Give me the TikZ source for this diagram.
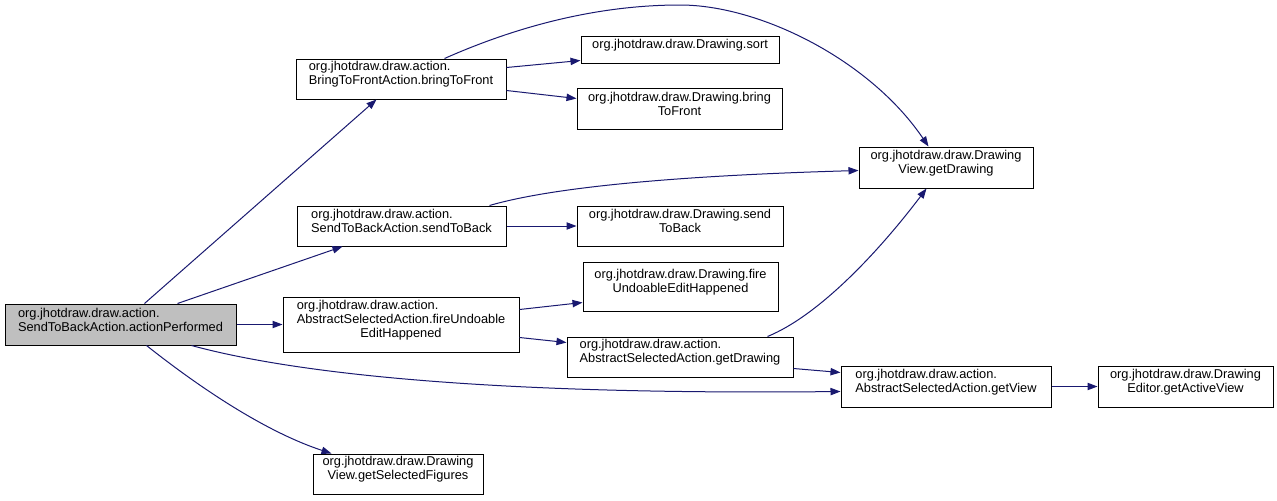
\documentclass[tikz,border=0pt]{standalone}
\usepackage{fontspec}
\setmainfont{Liberation Sans}
\usetikzlibrary{arrows.meta,fit,calc}
\definecolor{edgeblue}{HTML}{191970}
\definecolor{rootgray}{HTML}{BFBFBF}
% first line kept flush left against the widest line of the label
\newcommand{\lft}[2]{\rlap{#1}\phantom{#2}}

\begin{document}
\begin{tikzpicture}[x=0.75pt,y=-0.75pt,
  fn/.style={draw=black, line width=0.75pt, fill=white, inner sep=0pt,
    align=center, font=\fontsize{9.6}{10.5}\selectfont},
  rootfn/.style={fn, fill=rootgray},
  call/.style={draw=edgeblue, line width=0.75pt,
    -{Triangle[length=7.5pt,width=5.5pt]}}]
\useasboundingbox[fill=white] (0,0) rectangle (1277,500);

% functions
\node[rootfn, fit={(5,304) (236,345)}] (main)
  {\lft{org.jhotdraw.draw.action.}{SendToBackAction.actionPerformed}\\SendToBackAction.actionPerformed};
\node[fn, fit={(296,59) (506,99)}] (btf)
  {\lft{org.jhotdraw.draw.action.}{BringToFrontAction.bringToFront}\\BringToFrontAction.bringToFront};
\node[fn, fit={(581,36) (779,63)}] (sort) {org.jhotdraw.draw.Drawing.sort};
\node[fn, fit={(577,88) (782,129)}] (bf) {org.jhotdraw.draw.Drawing.bring\\ToFront};
\node[fn, fit={(859,147) (1033,188)}] (dvg) {org.jhotdraw.draw.Drawing\\View.getDrawing};
\node[fn, fit={(297,206) (506,246)}] (stb)
  {\lft{org.jhotdraw.draw.action.}{SendToBackAction.sendToBack}\\SendToBackAction.sendToBack};
\node[fn, fit={(577,206) (783,246)}] (stf) {org.jhotdraw.draw.Drawing.send\\ToBack};
\node[fn, fit={(583,262) (778,311)}] (fire) {org.jhotdraw.draw.Drawing.fire\\UndoableEditHappened};
\node[fn, fit={(283,297) (519,352)}] (fue)
  {\lft{org.jhotdraw.draw.action.}{AbstractSelectedAction.fireUndoable}\\AbstractSelectedAction.fireUndoable\\EditHappened};
\node[fn, fit={(567,337) (793,377)}] (agd)
  {\lft{org.jhotdraw.draw.action.}{AbstractSelectedAction.getDrawing}\\AbstractSelectedAction.getDrawing};
\node[fn, fit={(841,366) (1051,407)}] (gv)
  {\lft{org.jhotdraw.draw.action.}{AbstractSelectedAction.getView}\\AbstractSelectedAction.getView};
\node[fn, fit={(1098,366) (1273,407)}] (gav) {org.jhotdraw.draw.Drawing\\Editor.getActiveView};
\node[fn, fit={(313,454) (483,494)}] (gsf) {org.jhotdraw.draw.Drawing\\View.getSelectedFigures};

% calls
\draw[call] ($(main.north west)+(140,0)$) -- ($(btf.south west)+(81,0)$);
\draw[call] ($(main.north west)+(173,0)$) -- ($(stb.south west)+(46,0)$);
\draw[call] (main.east) -- (fue.west);
\draw[call] ($(main.south west)+(187,0)$) .. controls (300,375) and (500,395) .. ($(gv.north west)+(0,26)$);
\draw[call] ($(main.south west)+(142,0)$) .. controls (190,380) and (260,430) .. ($(gsf.north west)+(19,0)$);

\draw[call] ($(btf.north east)+(0,9)$) -- ($(sort.north west)+(0,25)$);
\draw[call] ($(btf.north east)+(0,32)$) -- ($(bf.north west)+(0,11)$);
\draw[call] ($(btf.north west)+(149,0)$) .. controls (520,25) and (600,5) .. (680,5)
  .. controls (760,5) and (870,60) .. ($(dvg.north west)+(70,0)$);

\draw[call] (stb.east) -- (stf.west);
\draw[call] ($(stb.north west)+(193,0)$) .. controls (560,185) and (700,175) .. ($(dvg.north west)+(0,24)$);

\draw[call] ($(fue.north east)+(0,13)$) -- ($(fire.north west)+(0,41)$);
\draw[call] ($(fue.north east)+(0,41)$) -- ($(agd.north west)+(0,6)$);

\draw[call] ($(agd.north west)+(201,0)$) .. controls (820,315) and (880,250) .. ($(dvg.south west)+(68,0)$);
\draw[call] ($(agd.north east)+(0,32)$) -- ($(gv.north west)+(0,7)$);

\draw[call] (gv.east) -- (gav.west);
\end{tikzpicture}
\end{document}
